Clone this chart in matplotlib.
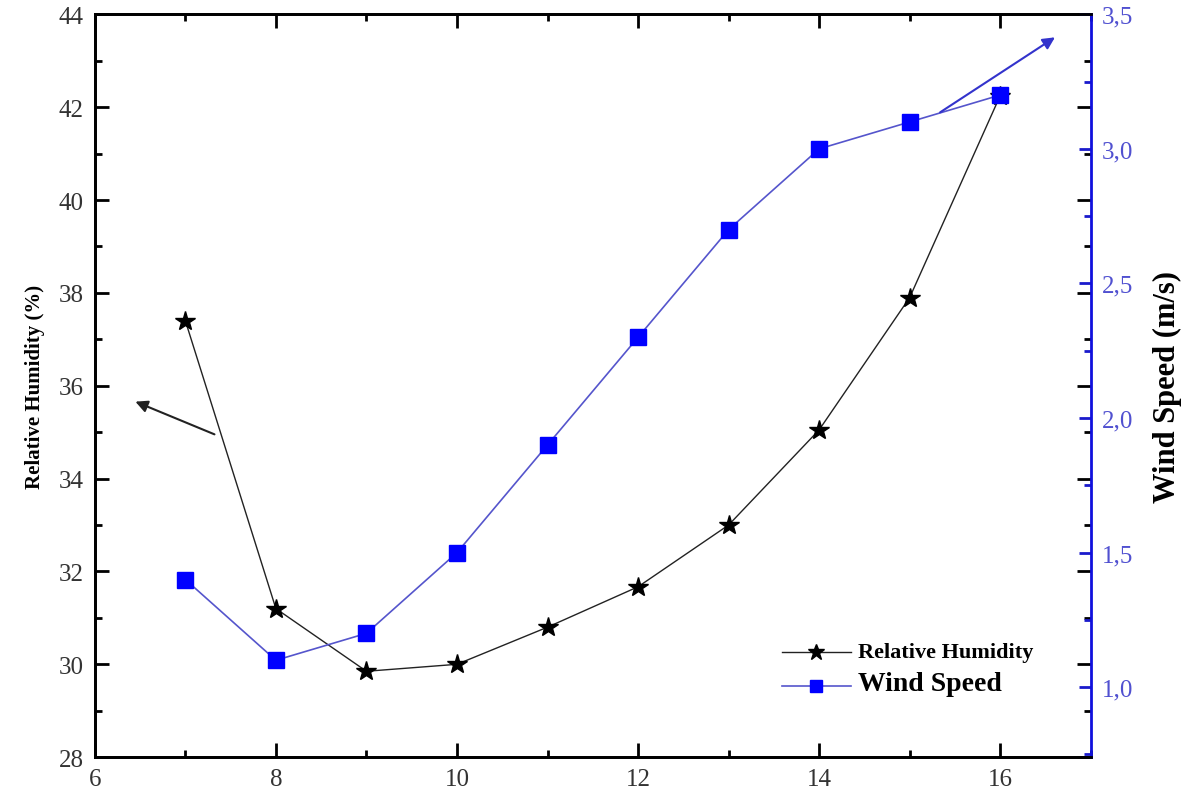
import numpy as np
import matplotlib.pyplot as plt
from matplotlib.ticker import MultipleLocator

plt.rcParams['font.family'] = ['Liberation Serif', 'DejaVu Serif']

hours = [7, 8, 9, 10, 11, 12, 13, 14, 15, 16]
humidity = [37.4, 31.2, 29.85, 30.0, 30.8, 31.67, 33.0, 35.05, 37.9, 42.25]
wind = [1.4, 1.1, 1.2, 1.5, 1.9, 2.3, 2.7, 3.0, 3.1, 3.2]
wind_ticks = [1.0, 1.5, 2.0, 2.5, 3.0, 3.5]
wind_tick_labels = ['1,0', '1,5', '2,0', '2,5', '3,0', '3,5']

fig = plt.figure(figsize=(12, 8.04), dpi=100)
ax1 = fig.add_axes([0.079, 0.057, 0.83, 0.924])
ax2 = ax1.twinx()

l1, = ax1.plot(hours, humidity, color='#222222', lw=1.0, marker='*',
               markersize=15, markerfacecolor='black', markeredgecolor='black',
               label='Relative Humidity')
l2, = ax2.plot(hours, wind, color='#5555cc', lw=1.2, marker='s',
               markersize=11, markerfacecolor='#0000ff', markeredgecolor='#0000ff',
               label='Wind Speed')

ax1.set_xlim(6, 17)
ax1.set_ylim(28, 44)
ax2.set_ylim(0.74, 3.5)

ax1.xaxis.set_major_locator(MultipleLocator(2))
ax1.xaxis.set_minor_locator(MultipleLocator(1))
ax1.yaxis.set_major_locator(MultipleLocator(2))
ax1.yaxis.set_minor_locator(MultipleLocator(1))
ax2.set_yticks(wind_ticks, wind_tick_labels)
ax2.yaxis.set_minor_locator(MultipleLocator(0.25))

ax1.tick_params(which='both', direction='in', width=2, colors='black',
                labelsize=18, labelcolor='#333333', pad=8)
ax1.tick_params(which='major', length=10)
ax1.tick_params(which='minor', length=5)
ax1.tick_params(axis='x', top=True, which='both')
ax1.tick_params(axis='y', right=True, which='both')
ax2.tick_params(which='both', direction='in', width=2, colors='#1a1acc',
                labelsize=18, labelcolor='#5050d0', pad=8)
ax2.tick_params(which='major', length=9)
ax2.tick_params(which='minor', length=5)

for s in ['left', 'bottom', 'top']:
    ax1.spines[s].set_linewidth(2)
    ax2.spines[s].set_linewidth(2)
ax2.spines['right'].set_color('#1010dd')
ax2.spines['right'].set_linewidth(2)
ax1.spines['right'].set_visible(False)

ax1.set_ylabel('Relative Humidity (%)', fontsize=15, fontweight='bold', labelpad=10)
ax2.set_ylabel('Wind Speed (m/s)', fontsize=22, fontweight='bold', labelpad=14)

# arrows pointing to each axis
ax1.annotate('', xy=(6.42, 35.68), xytext=(7.35, 34.93),
             arrowprops=dict(arrowstyle='-|>', color='#222222', lw=1.5, mutation_scale=18))
ax2.annotate('', xy=(16.63, 3.42), xytext=(15.31, 3.13),
             arrowprops=dict(arrowstyle='-|>', color='#3333cc', lw=1.5, mutation_scale=18))

leg = ax1.legend([l1, l2], ['Relative Humidity', 'Wind Speed'], frameon=False,
                 loc='lower right', bbox_to_anchor=(0.955, 0.065),
                 handlelength=5, handletextpad=0.5, labelspacing=0.7,
                 markerscale=0.8)
texts = leg.get_texts()
texts[0].set_fontsize(16)
texts[0].set_fontweight('bold')
texts[1].set_fontsize(20)
texts[1].set_fontweight('bold')

plt.savefig('out.png', dpi=100)
